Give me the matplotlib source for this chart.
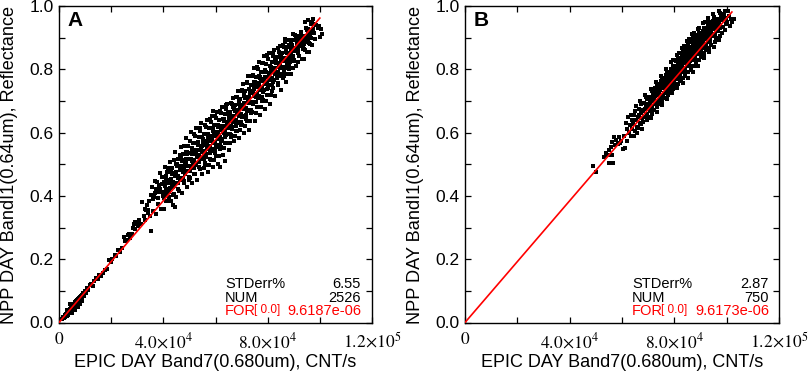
import matplotlib
matplotlib.use('Agg')
import matplotlib.pyplot as plt
from matplotlib.ticker import MultipleLocator, FuncFormatter

plt.rcParams['font.family'] = ['Liberation Sans', 'DejaVu Sans']
plt.rcParams['mathtext.fontset'] = 'stix'

# ---------------- chart values ----------------
panel_labels = ['A', 'B']
stderr_pct = ['6.55', '2.87']
num_points = ['2526', '750']
slope_text = ['9.6187e-06', '9.6173e-06']
slopes = [9.6187e-06, 9.6173e-06]
fit_x_end = [1.0e5, 1.02e5]          # CNT/s where the red fit line ends
x_label = 'EPIC DAY Band7(0.680um), CNT/s'
y_label = 'NPP DAY BandI1(0.64um), Reflectance'

# Panel A points: (EPIC counts in 10^3 CNT/s, reflectance)
a_origin = [(1.2,0.010),(1.6,0.018),(1.9,0.014),(2.2,0.024),(2.4,0.017),(2.7,0.028),(2.9,0.021),
            (3.1,0.032),(3.3,0.025),(3.5,0.036),(3.6,0.027),(3.8,0.040),(4.0,0.031),(4.1,0.044),
            (4.3,0.034),(4.5,0.047),(4.6,0.036),(4.8,0.050),(4.9,0.040),(5.1,0.053),(5.2,0.041),
            (5.4,0.056),(5.5,0.044),(5.7,0.060),(5.8,0.046),(6.0,0.063),(6.1,0.049),(6.3,0.066),
            (6.4,0.052),(6.6,0.069),(6.7,0.055),(6.9,0.071),(7.0,0.058),(7.2,0.074),(7.4,0.061),
            (7.6,0.077),(7.7,0.064),(7.9,0.081),(8.1,0.068),(8.3,0.084),(8.5,0.072),(8.8,0.088),
            (9.0,0.078),(9.3,0.092),(9.6,0.085),(10.0,0.098),(10.4,0.094),(10.8,0.108),(11.3,0.104),
            (5.0,0.030),(6.2,0.040),(7.3,0.050),(3.0,0.040),(4.4,0.058),(8.0,0.058),(9.0,0.068)]
a_low = [(11.8,0.118),(12.4,0.121),(13.0,0.116),(13.6,0.132),(14.2,0.140),(14.9,0.137),(15.5,0.150),
         (16.2,0.148),(16.9,0.155),(17.6,0.165),(18.4,0.170),(19.0,0.196),(19.8,0.192),(20.5,0.200),
         (21.3,0.212),(22.0,0.210),(22.8,0.228),(23.5,0.222),(24.3,0.235),(25.2,0.256),(25.9,0.262),
         (26.5,0.275),(27.2,0.268),(27.8,0.281),(28.4,0.300),(29.0,0.296),(29.6,0.312),(30.2,0.305),
         (30.8,0.318),(31.4,0.310),(31.8,0.380),(32.4,0.335),(33.0,0.325),(33.5,0.355),(34.0,0.345),
         (32.8,0.360),(33.8,0.372),(35.2,0.290),(29.3,0.318),(30.5,0.325),(28.8,0.310),(25.0,0.270),
         (26.8,0.280)]
a_main = [
    (34.3,0.355),(35.1,0.403),(35.6,0.427),(34.8,0.335),(35.9,0.390),(34.6,0.383),
    (36.2,0.352),(37.3,0.423),(36.7,0.447),(37.8,0.392),(36.5,0.397),(37.0,0.342),(37.6,0.444),(36.9,0.410),
    (38.1,0.374),(39.3,0.438),(38.6,0.473),(39.8,0.413),(38.3,0.411),(39.0,0.360),(39.5,0.459),(38.8,0.423),(38.2,0.436),(39.7,0.399),
    (40.1,0.358),(41.3,0.404),(40.6,0.492),(41.8,0.444),(40.3,0.444),(41.0,0.422),(41.5,0.476),(40.8,0.441),(40.2,0.401),(41.7,0.489),(41.1,0.385),
    (42.1,0.397),(43.3,0.470),(42.6,0.508),(43.8,0.444),(42.3,0.441),(43.0,0.384),(43.5,0.489),(42.8,0.453),(42.2,0.489),(43.7,0.428),(43.1,0.475),(42.5,0.424),(43.8,0.372),(44.3,0.365),
    (44.1,0.406),(45.3,0.494),(44.6,0.539),(45.8,0.463),(44.3,0.464),(45.0,0.395),(45.5,0.516),(44.8,0.477),(44.2,0.515),(45.7,0.442),(45.1,0.500),(44.5,0.442),
    (46.1,0.417),(47.3,0.509),(46.6,0.554),(47.8,0.486),(46.3,0.483),(47.0,0.410),(47.5,0.531),(46.8,0.496),(46.2,0.530),(47.7,0.457),(47.1,0.515),(46.5,0.457),(47.9,0.559),
    (48.1,0.446),(49.3,0.534),(48.6,0.583),(49.8,0.496),(48.3,0.499),(49.0,0.429),(49.5,0.557),(48.8,0.516),(48.2,0.558),(49.7,0.478),(49.1,0.540),(48.5,0.480),(49.9,0.450),
    (50.1,0.456),(51.3,0.544),(50.6,0.601),(51.8,0.514),(50.3,0.518),(51.0,0.440),(51.5,0.567),(50.8,0.531),(50.2,0.572),(51.7,0.488),(51.1,0.551),(50.5,0.490),(51.9,0.596),(50.9,0.511),
    (52.1,0.470),(53.3,0.563),(52.6,0.615),(53.8,0.529),(52.3,0.532),(53.0,0.449),(53.5,0.586),(52.8,0.545),(52.2,0.590),(53.7,0.507),(53.1,0.569),(52.5,0.504),(53.9,0.616),(52.9,0.525),
    (54.1,0.484),(55.3,0.573),(54.6,0.629),(55.8,0.543),(54.3,0.546),(55.0,0.468),(55.5,0.596),(54.8,0.559),(54.2,0.604),(55.7,0.517),(55.1,0.579),(54.5,0.518),(55.9,0.625),(54.9,0.539),(55.4,0.488),
    (56.1,0.503),(57.3,0.591),(56.6,0.639),(57.8,0.558),(56.3,0.561),(57.0,0.477),(57.5,0.614),(56.8,0.573),(56.2,0.619),(57.7,0.535),(57.1,0.597),(56.5,0.533),(57.9,0.644),(56.9,0.553),(57.4,0.498),
    (58.1,0.513),(59.3,0.601),(58.6,0.654),(59.8,0.571),(58.3,0.575),(59.0,0.492),(59.5,0.624),(58.8,0.588),(58.2,0.633),(59.7,0.545),(59.1,0.608),(58.5,0.547),(59.9,0.653),(58.9,0.568),(59.4,0.512),(59.2,0.668),
    (60.1,0.527),(61.3,0.620),(60.6,0.664),(61.8,0.587),(60.3,0.589),(61.0,0.502),(61.5,0.639),(60.8,0.602),(60.2,0.647),(61.7,0.560),(61.1,0.622),(60.5,0.561),(61.9,0.667),(60.9,0.582),(61.4,0.527),(61.7,0.490),
    (62.1,0.553),(63.3,0.637),(62.6,0.682),(63.8,0.606),(62.3,0.607),(63.0,0.530),(63.5,0.659),(62.8,0.620),(62.2,0.662),(63.7,0.585),(63.1,0.643),(62.5,0.581),(63.9,0.687),(62.9,0.601),(63.4,0.550),(63.5,0.510),
    (64.1,0.567),(65.3,0.646),(64.6,0.691),(65.8,0.621),(64.3,0.622),(65.0,0.545),(65.5,0.666),(64.8,0.633),(64.2,0.673),(65.7,0.597),(65.1,0.651),(64.5,0.596),(65.9,0.693),(64.9,0.615),(65.4,0.568),
    (66.1,0.591),(67.3,0.667),(66.6,0.708),(67.8,0.640),(66.3,0.640),(67.0,0.572),(67.5,0.687),(66.8,0.652),(66.2,0.690),(67.7,0.621),(67.1,0.673),(66.5,0.617),(67.9,0.713),(66.9,0.635),(67.4,0.589),
    (68.1,0.605),(69.3,0.685),(68.6,0.730),(69.8,0.659),(68.3,0.660),(69.0,0.584),(69.5,0.705),(68.8,0.672),(68.2,0.711),(69.7,0.635),(69.1,0.690),(68.5,0.635),(69.9,0.731),(68.9,0.654),(69.4,0.607),
    (70.1,0.625),(71.3,0.709),(70.6,0.754),(71.8,0.678),(70.3,0.679),(71.0,0.598),(71.5,0.731),(70.8,0.692),(70.2,0.734),(71.7,0.657),(71.1,0.715),(70.5,0.653),(71.9,0.759),(70.9,0.673),(71.4,0.622),
    (72.1,0.638),(73.3,0.726),(72.6,0.778),(73.8,0.697),(72.3,0.700),(73.0,0.608),(73.5,0.749),(72.8,0.712),(72.2,0.758),(73.7,0.670),(73.1,0.732),(72.5,0.671),(73.9,0.778),(72.9,0.692),(73.4,0.637),
    (74.1,0.666),(75.3,0.754),(74.6,0.803),(75.8,0.721),(74.3,0.724),(75.0,0.637),(75.5,0.777),(74.8,0.737),(74.2,0.782),(75.7,0.698),(75.1,0.760),(74.5,0.696),(75.9,0.807),(74.9,0.717),(75.4,0.661),
    (76.1,0.681),(77.3,0.770),(76.6,0.822),(77.8,0.740),(76.3,0.743),(77.0,0.656),(77.5,0.793),(76.8,0.756),(76.2,0.801),(77.7,0.713),(77.1,0.776),(76.5,0.715),(77.9,0.821),(76.9,0.736),(77.4,0.681),
    (78.1,0.704),(79.3,0.793),(78.6,0.841),(79.8,0.760),(78.3,0.762),(79.0,0.675),(79.5,0.816),(78.8,0.775),(78.2,0.820),(79.7,0.737),(79.1,0.799),(78.5,0.734),(79.9,0.846),(78.9,0.755),(79.4,0.700),
    (80.1,0.718),(81.3,0.801),(80.6,0.850),(81.8,0.774),(80.3,0.775),(81.0,0.690),(81.5,0.823),(80.8,0.788),(80.2,0.831),(81.7,0.749),(81.1,0.807),(80.5,0.749),(81.9,0.851),(80.9,0.769),(81.4,0.718),
    (82.1,0.741),(83.3,0.819),(82.6,0.862),(83.8,0.791),(82.3,0.792),(83.0,0.715),(83.5,0.840),(82.8,0.804),(82.2,0.843),(83.7,0.771),(83.1,0.825),(82.5,0.767),(83.9,0.867),(82.9,0.785),
    (84.1,0.757),(85.3,0.832),(84.6,0.874),(85.8,0.808),(84.3,0.808),(85.0,0.734),(85.5,0.851),(84.8,0.820),(84.2,0.856),(85.7,0.786),(85.1,0.837),(84.5,0.785),(85.9,0.876),(84.9,0.804),
    (86.1,0.780),(87.3,0.851),(86.6,0.886),(87.8,0.826),(86.3,0.825),(87.0,0.760),(87.5,0.869),(86.8,0.836),(86.2,0.869),(87.7,0.809),(87.1,0.855),(86.5,0.804),(87.9,0.893),(86.5,0.895),
    (88.1,0.800),(89.3,0.861),(88.6,0.892),(89.8,0.843),(88.3,0.840),(89.0,0.786),(89.5,0.876),(88.8,0.850),(88.2,0.877),(89.7,0.826),(89.1,0.864),(88.5,0.822),(89.8,0.912),
    (90.1,0.825),(91.3,0.881),(90.6,0.907),(91.8,0.863),(90.3,0.859),(91.0,0.810),(91.5,0.895),(90.8,0.868),(90.2,0.893),(91.7,0.850),(91.1,0.884),
    (92.1,0.841),(93.3,0.893),(92.6,0.918),(93.8,0.880),(92.3,0.875),(93.0,0.832),(93.5,0.906),(92.8,0.884),(92.2,0.905),(93.7,0.865),
    (94.1,0.863),(95.3,0.911),(94.6,0.930),(95.8,0.898),(94.3,0.891),(95.0,0.854),(95.5,0.927),(94.8,0.900),(95.7,0.883),(94.2,0.950),(95.5,0.955),
    (96.1,0.881),(97.3,0.928),(96.6,0.942),(97.8,0.916),(96.3,0.911),(97.0,0.876),(97.5,0.944),(96.8,0.898),(97.2,0.958),
    (98.2,0.895),(99.3,0.929),(98.7,0.941),(100.0,0.903),(100.6,0.927),(99.6,0.938),(101.0,0.910)]
a_core = [
    (40.2,0.392),(40.55,0.430),(40.85,0.462),(41.15,0.454),(41.45,0.417),(41.8,0.384),
    (42.2,0.411),(42.55,0.449),(42.85,0.481),(43.15,0.473),(43.45,0.436),(43.8,0.403),
    (44.2,0.430),(44.55,0.468),(44.85,0.500),(45.15,0.493),(45.45,0.456),(45.8,0.423),
    (46.2,0.449),(46.55,0.487),(46.85,0.519),(47.15,0.512),(47.45,0.475),(47.8,0.442),
    (48.2,0.469),(48.55,0.507),(48.85,0.539),(49.15,0.531),(49.45,0.494),(49.8,0.461),
    (50.2,0.478),(50.55,0.516),(50.85,0.548),(51.15,0.540),(51.45,0.503),(51.8,0.470),
    (52.2,0.497),(52.55,0.535),(52.85,0.567),(53.15,0.560),(53.45,0.523),(53.8,0.490),
    (54.2,0.516),(54.55,0.554),(54.85,0.586),(55.15,0.567),(55.45,0.530),(55.8,0.497),
    (56.2,0.524),(56.55,0.562),(56.85,0.594),(57.15,0.586),(57.45,0.549),(57.8,0.516),
    (58.2,0.543),(58.55,0.581),(58.85,0.613),(59.15,0.605),(59.45,0.568),(59.8,0.535),
    (60.2,0.554),(60.55,0.592),(60.85,0.624),(61.15,0.617),(61.45,0.580),(61.8,0.547),
    (62.2,0.573),(62.55,0.611),(62.85,0.643),(63.15,0.636),(63.45,0.599),(63.8,0.566),
    (64.2,0.592),(64.55,0.630),(64.85,0.662),(65.15,0.655),(65.45,0.618),(65.8,0.585),
    (66.2,0.612),(66.55,0.650),(66.85,0.682),(67.15,0.674),(67.45,0.637),(67.8,0.604),
    (68.2,0.631),(68.55,0.669),(68.85,0.701),(69.15,0.694),(69.45,0.657),(69.8,0.624),
    (70.2,0.650),(70.55,0.688),(70.85,0.720),(71.15,0.713),(71.45,0.676),(71.8,0.643),
    (72.2,0.669),(72.55,0.707),(72.85,0.739),(73.15,0.732),(73.45,0.695),(73.8,0.662),
    (74.2,0.689),(74.55,0.727),(74.85,0.759),(75.15,0.751),(75.45,0.714),(75.8,0.681),
    (76.2,0.708),(76.55,0.746),(76.85,0.778),(77.15,0.771),(77.45,0.734),(77.8,0.701),
    (78.2,0.727),(78.55,0.765),(78.85,0.797),(79.15,0.790),(79.45,0.753),(79.8,0.720),
    (80.2,0.740),(80.55,0.778),(80.85,0.810),(81.15,0.802),(81.45,0.765),(81.8,0.732),
    (82.2,0.759),(82.55,0.797),(82.85,0.829),(83.15,0.821),(83.45,0.784),(83.8,0.751),
    (84.2,0.778),(84.55,0.816),(84.85,0.848),(85.15,0.841),(85.45,0.804),(85.8,0.771),
    (86.2,0.791),(86.55,0.829),(86.85,0.861),(87.15,0.854),(87.45,0.817),(87.8,0.784),
    (88.2,0.810),(88.55,0.848),(88.85,0.880),(89.15,0.873),(89.45,0.836),(89.8,0.803),
    (90.2,0.830),(90.55,0.868),(90.85,0.900),(91.15,0.892),(91.45,0.855),(91.8,0.822),
    (92.2,0.842),(92.55,0.880),(92.85,0.912),(93.15,0.904),(93.45,0.867),(93.8,0.834),
    (94.2,0.861),(94.55,0.899),(94.85,0.931),(95.15,0.924),(95.45,0.887),(95.8,0.854),
    (96.2,0.880),(96.55,0.918),(96.85,0.950)]

# Panel B points
b_low = [(48.8,0.494),(50.2,0.474),(53.0,0.523),(53.8,0.535),(54.5,0.528),(55.2,0.505),(55.8,0.555),
         (56.3,0.570),(56.6,0.503),(57.2,0.560),(57.8,0.578),(58.4,0.565),(58.9,0.585),(59.5,0.572),
         (60.2,0.548),(60.6,0.590),(55.0,0.545),(57.0,0.585),(56.1,0.529),(59.2,0.566),(61.2,0.550)]
b_main = [
    (61.5,0.630),(62.0,0.610),(62.4,0.648),(62.8,0.598),(63.1,0.625),(63.5,0.655),(63.9,0.612),(61.8,0.575),(63.3,0.590),(64.0,0.640),
    (64.2,0.628),(64.6,0.655),(64.9,0.605),(65.2,0.684),(65.5,0.640),(65.8,0.618),(64.4,0.590),(65.0,0.668),(65.7,0.600),(66.0,0.650),
    (66.2,0.648),(66.5,0.676),(66.8,0.630),(67.1,0.662),(67.4,0.690),(67.7,0.645),(66.3,0.615),(66.9,0.700),(67.3,0.628),(67.9,0.672),(66.6,0.655),(67.6,0.612),
    (68.1,0.668),(68.4,0.695),(68.7,0.650),(69.0,0.680),(69.3,0.712),(69.6,0.660),(68.2,0.632),(68.9,0.718),(69.4,0.640),(69.9,0.690),(68.6,0.675),(69.7,0.705),
    (70.1,0.688),(70.4,0.712),(70.7,0.668),(71.0,0.700),(71.3,0.732),(71.6,0.680),(70.2,0.650),(70.9,0.738),(71.4,0.660),(71.9,0.712),(70.6,0.695),(71.7,0.725),(70.5,0.678),(71.2,0.645),
    (72.1,0.708),(72.4,0.732),(72.7,0.690),(73.0,0.720),(73.3,0.752),(73.6,0.700),(72.2,0.672),(72.9,0.760),(73.4,0.682),(73.9,0.735),(72.6,0.715),(73.7,0.748),(72.5,0.700),(73.2,0.666),(72.8,0.742),(73.5,0.725),
    (74.1,0.728),(74.4,0.752),(74.7,0.710),(75.0,0.740),(75.3,0.772),(75.6,0.720),(74.2,0.690),(74.9,0.780),(75.4,0.700),(75.9,0.755),(74.6,0.735),(75.7,0.768),(74.5,0.720),(75.2,0.686),(74.8,0.762),(75.5,0.745),(74.3,0.745),(75.8,0.712),
    (76.1,0.748),(76.4,0.772),(76.7,0.730),(77.0,0.760),(77.3,0.792),(77.6,0.740),(76.2,0.708),(76.9,0.800),(77.4,0.718),(77.9,0.775),(76.6,0.755),(77.7,0.788),(76.5,0.740),(77.2,0.705),(76.8,0.782),(77.5,0.765),(76.3,0.765),(77.8,0.730),(77.1,0.748),(76.0,0.725),
    (78.1,0.768),(78.4,0.792),(78.7,0.750),(79.0,0.780),(79.3,0.812),(79.6,0.760),(78.2,0.728),(78.9,0.822),(79.4,0.738),(79.9,0.795),(78.6,0.775),(79.7,0.808),(78.5,0.760),(79.2,0.724),(78.8,0.802),(79.5,0.785),(78.3,0.785),(79.8,0.750),(79.1,0.768),(78.0,0.745),(79.6,0.830),(78.7,0.735),
    (80.1,0.788),(80.4,0.812),(80.7,0.770),(81.0,0.800),(81.3,0.835),(81.6,0.780),(80.2,0.745),(80.9,0.845),(81.4,0.755),(81.9,0.815),(80.6,0.795),(81.7,0.830),(80.5,0.780),(81.2,0.740),(80.8,0.825),(81.5,0.805),(80.3,0.805),(81.8,0.770),(81.1,0.788),(80.0,0.765),(81.6,0.852),(80.7,0.752),(81.3,0.815),(80.4,0.830),
    (82.1,0.808),(82.4,0.832),(82.7,0.790),(83.0,0.820),(83.3,0.858),(83.6,0.800),(82.2,0.762),(82.9,0.868),(83.4,0.772),(83.9,0.835),(82.6,0.815),(83.7,0.852),(82.5,0.800),(83.2,0.758),(82.8,0.845),(83.5,0.825),(82.3,0.825),(83.8,0.790),(83.1,0.808),(82.0,0.785),(83.6,0.875),(82.7,0.770),(83.3,0.835),(82.4,0.850),
    (84.1,0.828),(84.4,0.852),(84.7,0.810),(85.0,0.840),(85.3,0.878),(85.6,0.820),(84.2,0.778),(84.9,0.890),(85.4,0.790),(85.9,0.855),(84.6,0.835),(85.7,0.872),(84.5,0.820),(85.2,0.772),(84.8,0.865),(85.5,0.845),(84.3,0.845),(85.8,0.810),(85.1,0.828),(84.0,0.805),(85.6,0.895),(84.7,0.790),(85.3,0.855),(84.4,0.870),
    (86.1,0.848),(86.4,0.872),(86.7,0.830),(87.0,0.860),(87.3,0.898),(87.6,0.840),(86.2,0.798),(86.9,0.910),(87.4,0.810),(87.9,0.875),(86.6,0.855),(87.7,0.892),(86.5,0.840),(87.2,0.792),(86.8,0.885),(87.5,0.865),(86.3,0.865),(87.8,0.830),(87.1,0.848),(86.0,0.825),(87.6,0.915),(86.7,0.810),(87.3,0.875),(86.4,0.890),
    (88.1,0.866),(88.4,0.890),(88.7,0.848),(89.0,0.878),(89.3,0.915),(89.6,0.858),(88.2,0.818),(88.9,0.928),(89.4,0.828),(89.9,0.892),(88.6,0.872),(89.7,0.910),(88.5,0.858),(89.2,0.810),(88.8,0.902),(89.5,0.882),(88.3,0.882),(89.8,0.848),(89.1,0.866),(88.0,0.842),(89.6,0.932),(88.7,0.828),(89.3,0.892),(88.4,0.908),
    (90.1,0.885),(90.4,0.908),(90.7,0.868),(91.0,0.896),(91.3,0.932),(91.6,0.878),(90.2,0.840),(90.9,0.945),(91.4,0.848),(91.9,0.910),(90.6,0.892),(91.7,0.928),(90.5,0.878),(91.2,0.835),(90.8,0.920),(91.5,0.900),(90.3,0.900),(91.8,0.868),(91.1,0.885),(90.0,0.862),(91.6,0.948),(90.7,0.850),
    (92.1,0.904),(92.4,0.926),(92.7,0.888),(93.0,0.915),(93.3,0.950),(93.6,0.896),(92.2,0.860),(92.9,0.962),(93.4,0.868),(93.9,0.928),(92.6,0.910),(93.7,0.945),(92.5,0.896),(93.2,0.855),(92.8,0.938),(93.5,0.918),(92.3,0.918),(93.8,0.885),(93.1,0.904),(92.0,0.880),
    (94.1,0.922),(94.4,0.944),(94.7,0.905),(95.0,0.932),(95.3,0.966),(95.6,0.912),(94.2,0.878),(94.9,0.975),(95.4,0.885),(95.9,0.945),(94.6,0.926),(95.7,0.960),(94.5,0.912),(95.2,0.872),(94.8,0.952),(95.5,0.935),(94.3,0.935),(95.8,0.900),
    (96.1,0.940),(96.4,0.960),(96.7,0.922),(97.0,0.948),(97.3,0.978),(97.6,0.930),(96.2,0.898),(96.9,0.985),(97.4,0.905),(97.9,0.958),(96.6,0.942),(97.7,0.970),(96.5,0.928),(97.2,0.892),
    (98.1,0.955),(98.4,0.972),(98.7,0.935),(99.0,0.960),(99.3,0.985),(99.6,0.942),(98.2,0.915),(98.9,0.975),(99.5,0.925),(99.9,0.962),
    (100.3,0.950),(100.8,0.968),(101.2,0.938),(101.6,0.958),(102.2,0.948),(102.8,0.960),(100.5,0.985)]

panel_points = [a_origin + a_low + a_main + a_core, b_low + b_main]

# ---------------- figure ----------------
fig = plt.figure(figsize=(8.09, 3.74), dpi=100)
axes_rects = [[59/809, 51.5/374, 313/809, 316.5/374],
              [465/809, 51.5/374, 314/809, 316.5/374]]
stats_left = [0.530, 0.532]
stats_right = [0.965, 0.968]
stat_font = ['Liberation Sans Narrow', 'Liberation Sans', 'DejaVu Sans']


def xfmt(v, pos):
    if abs(v) < 1:
        return r'$\mathrm{0}$'
    exp = 5 if v >= 1e5 else 4
    mant = v / 10**exp
    return r'$\mathrm{%.1f\!\times\!10^{%d}}$' % (mant, exp)


for i in range(2):
    ax = fig.add_axes(axes_rects[i])
    pts = panel_points[i]
    xs = [p[0] * 1000.0 for p in pts]
    ys = [p[1] for p in pts]
    ax.scatter(xs, ys, s=5.0, marker='s', c='black', linewidths=0, zorder=2)
    xe = fit_x_end[i]
    ax.plot([0, xe], [0, slopes[i] * xe], color='#ff0000', lw=1.2, zorder=3)

    ax.set_xlim(0, 1.2e5)
    ax.set_ylim(0, 1.0)
    ax.xaxis.set_major_locator(MultipleLocator(4e4))
    ax.xaxis.set_minor_locator(MultipleLocator(2e4))
    ax.yaxis.set_major_locator(MultipleLocator(0.2))
    ax.yaxis.set_minor_locator(MultipleLocator(0.1))
    ax.xaxis.set_major_formatter(FuncFormatter(xfmt))
    ax.yaxis.set_major_formatter(FuncFormatter(lambda v, p: '%.1f' % v))
    ax.tick_params(which='both', direction='in', top=True, right=True,
                   length=4, width=0.9, color='black')
    ax.tick_params(axis='y', which='major', labelsize=12.5, pad=4)
    ax.tick_params(axis='x', which='major', labelsize=12.5, pad=6)
    for s in ax.spines.values():
        s.set_linewidth(1.0)

    ax.text(-0.157, 0.497, y_label, transform=ax.transAxes, rotation=90,
            ha='center', va='center', fontsize=13.1)
    ax.text(0.5, -0.125, x_label, transform=ax.transAxes,
            ha='center', va='center', fontsize=13)

    ax.text(0.027, 0.953, panel_labels[i], transform=ax.transAxes,
            ha='left', va='center', fontsize=15, fontweight='bold')

    L, R = stats_left[i], stats_right[i]
    kw = dict(transform=ax.transAxes, va='baseline', fontsize=10.5, family=stat_font)
    ax.text(L, 0.108, 'STDerr%', ha='left', **kw)
    ax.text(R, 0.108, stderr_pct[i], ha='right', **kw)
    ax.text(L, 0.0657, 'NUM', ha='left', **kw)
    ax.text(R, 0.0657, num_points[i], ha='right', **kw)
    ax.text(L, 0.0237, 'FOR', ha='left', color='#ff0000', **kw)
    ax.text(R, 0.0237, slope_text[i], ha='right', color='#ff0000', **kw)
    ax.text(L + 0.093, 0.041, '[ 0.0]', transform=ax.transAxes, ha='left', va='center',
            fontsize=8.5, color='#ff0000', family=['Liberation Sans', 'DejaVu Sans'])

fig.savefig('out.png', dpi=100)
